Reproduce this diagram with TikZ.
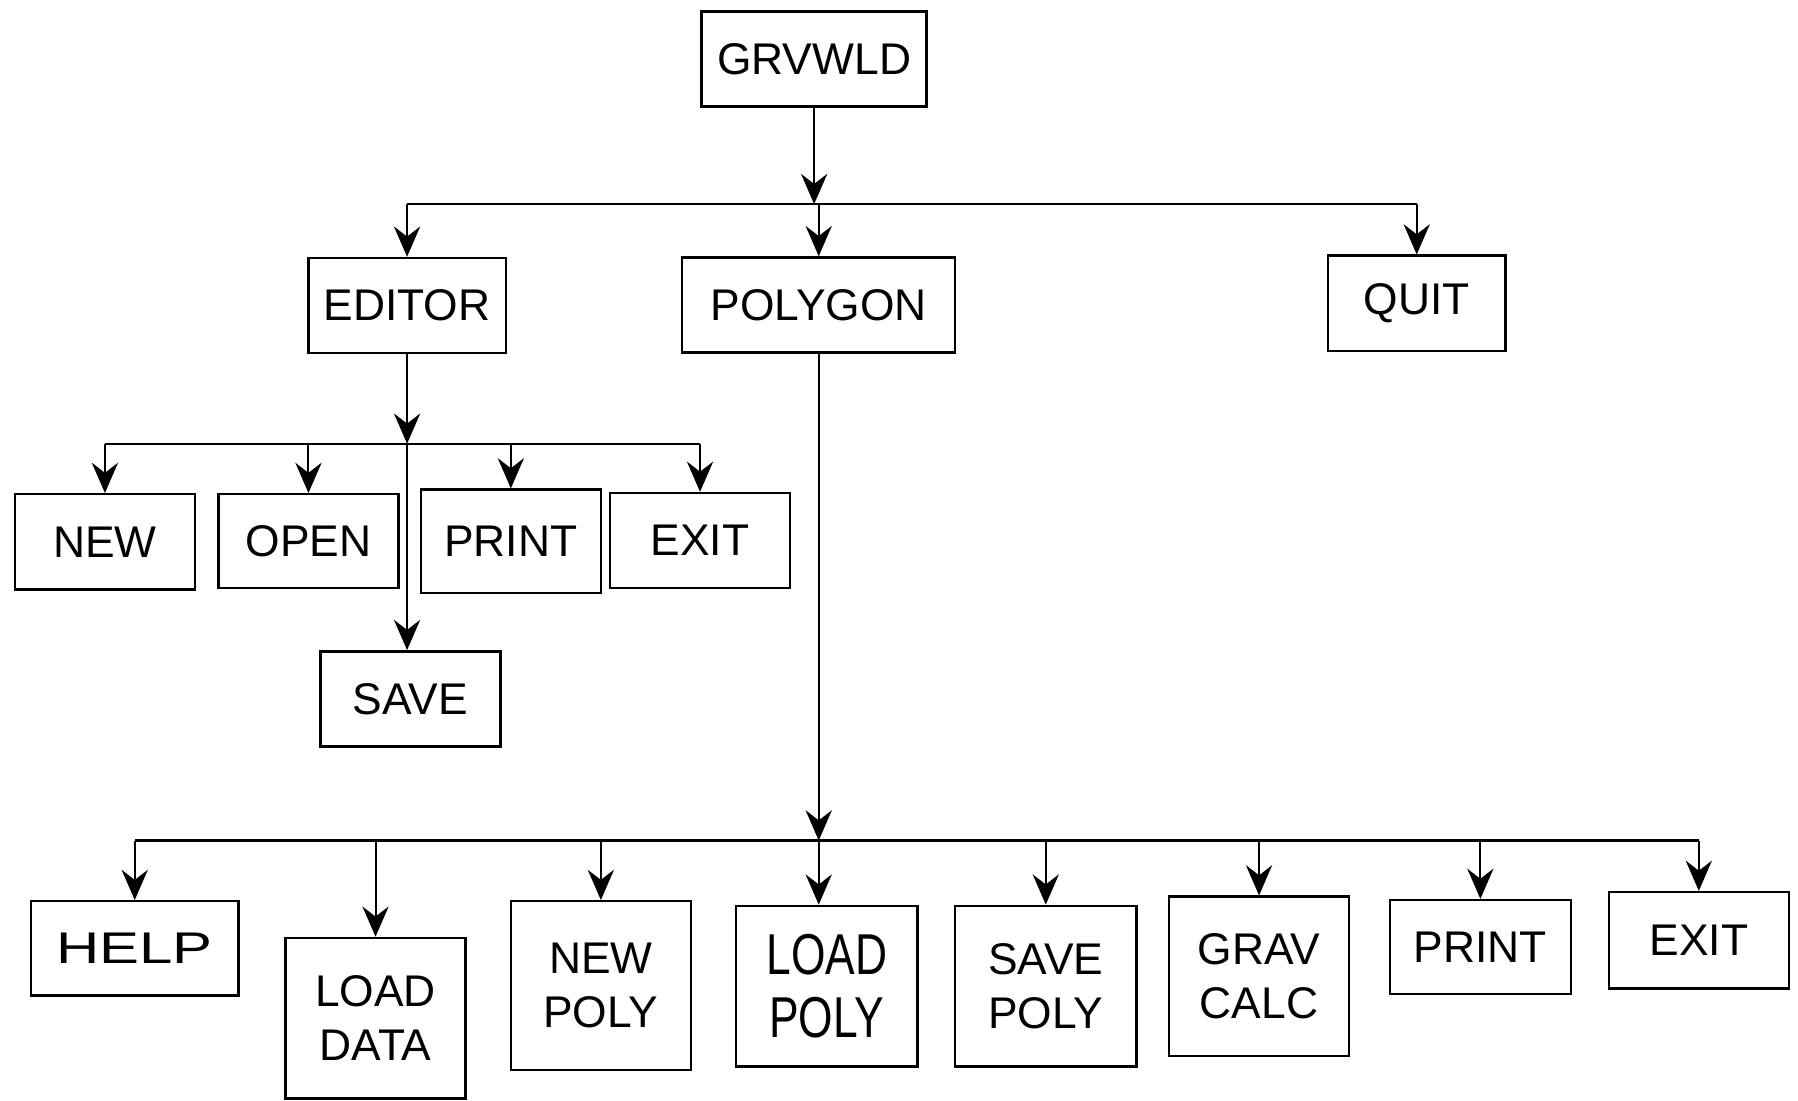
\documentclass[tikz,border=0pt]{standalone}
\usepackage{fontspec}
\setmainfont{Liberation Sans}
\usepackage{graphicx}
\usetikzlibrary{arrows.meta}
\tikzset{
  menu/.style={draw, line width=0.6pt, align=center, inner sep=0pt,
    font=\fontsize{11}{13.5}\selectfont, minimum width=1.57cm, minimum height=0.83cm},
  tallmenu/.style={menu, minimum height=1.40cm},
  feed/.style={line width=0.5pt, -{Stealth[length=7.5pt, width=6.5pt, inset=2.5pt]}},
  bus/.style={line width=0.6pt},
}

\begin{document}
\begin{tikzpicture}[x=0.01cm, y=-0.01cm]
\useasboundingbox (0,0) rectangle (1568,960);
% top level
\node[menu, minimum width=1.96cm] (grvwld) at (710,51.5) {GRVWLD};
\node[menu, minimum width=1.72cm] (editor) at (355,266.5) {EDITOR};
\node[menu, minimum width=2.38cm] (polygon) at (714,266) {POLYGON};
\node[menu, minimum width=1.55cm] (quit) at (1235.5,264.5) {QUIT};
% editor menu
\node[menu] (new) at (91.5,472.5) {NEW};
\node[menu, minimum height=0.82cm] (open) at (269,472) {OPEN};
\node[menu, minimum height=0.90cm] (print) at (445.5,472) {PRINT};
\node[menu] (exit) at (610.5,471.5) {EXIT};
\node[menu] (save) at (358,609.5) {SAVE};
% polygon menu
\node[menu, minimum width=1.81cm, minimum height=0.82cm] (help) at (117.5,827) {\scalebox{1.35}[1]{HELP}};
\node[tallmenu] (loaddata) at (327.5,888) {LOAD\\DATA};
\node[tallmenu, minimum height=1.47cm] (newpoly) at (524,859.5) {NEW\\POLY};
\node[tallmenu, minimum width=1.58cm, font=\fontsize{11}{15.5}\selectfont] (loadpoly) at (721,860)
  {\scalebox{1}[1.3]{LOAD}\\\scalebox{1}[1.3]{POLY}};
\node[tallmenu, minimum width=1.58cm] (savepoly) at (912,860) {SAVE\\POLY};
\node[tallmenu, minimum height=1.39cm] (gravcalc) at (1098,851.5) {GRAV\\CALC};
\node[menu, minimum width=1.58cm, minimum height=0.82cm] (print2) at (1291,826) {PRINT};
\node[menu, minimum height=0.84cm] (exit2) at (1481.5,820) {EXIT};

\coordinate (b1) at (0,178);
\coordinate (b2) at (0,387);
\coordinate (b3) at (0,733);

\draw[feed] (grvwld.south) -- (grvwld.south |- b1);
\draw[bus] (editor.north |- b1) -- (quit.north |- b1);
\foreach \n in {editor,polygon,quit}
  \draw[feed] (\n.north |- b1) -- (\n.north);

\draw[feed] (editor.south) -- (editor.south |- b2);
\draw[bus] (new.north |- b2) -- (exit.north |- b2);
\foreach \n in {new,open,print,exit}
  \draw[feed] (\n.north |- b2) -- (\n.north);
\draw[feed] (editor.south |- b2) -- (editor.south |- save.north);

\draw[feed] (polygon.south) -- (polygon.south |- b3);
\draw[bus] (help.north |- b3) -- (exit2.north |- b3);
\foreach \n in {help,loaddata,newpoly,savepoly,gravcalc,print2,exit2}
  \draw[feed] (\n.north |- b3) -- (\n.north);
\draw[feed] (polygon.south |- b3) -- (polygon.south |- loadpoly.north);
\end{tikzpicture}
\end{document}
